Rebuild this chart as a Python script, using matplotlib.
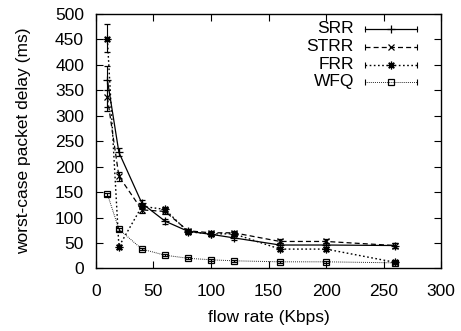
import matplotlib
matplotlib.use("Agg")
import matplotlib.pyplot as plt
from matplotlib.lines import Line2D

plt.rcParams['font.family'] = ['Liberation Sans', 'DejaVu Sans']

rates = [10, 20, 40, 60, 80, 100, 120, 160, 200, 260]
srr = [370, 228, 128, 93, 73, 67, 60, 46, 46, 45]
srr_lo = [310, 220, 122, 88, 69, 63, 56, 42, 42, 41]
srr_hi = [398, 236, 134, 98, 77, 71, 64, 50, 50, 49]
strr = [336, 181, 115, 112, 74, 70, 70, 53, 53, 45]
strr_lo = [318, 172, 109, 106, 70, 66, 66, 49, 49, 41]
strr_hi = [350, 190, 121, 118, 78, 74, 74, 57, 57, 49]
frr = [450, 43, 122, 116, 72, 68, 68, 38, 38, 12]
frr_lo = [425, 39, 117, 111, 68, 64, 64, 34, 34, 9]
frr_hi = [480, 47, 127, 121, 76, 72, 72, 42, 42, 15]
wfq = [146, 77, 38, 26, 20, 17, 15, 13, 13, 11]
wfq_lo = [143, 74, 36, 24, 18, 15, 13, 11, 11, 9]
wfq_hi = [149, 80, 40, 28, 22, 19, 17, 15, 15, 13]

names = ["SRR", "STRR", "FRR", "WFQ"]
series = [(srr, srr_lo, srr_hi), (strr, strr_lo, strr_hi),
          (frr, frr_lo, frr_hi), (wfq, wfq_lo, wfq_hi)]
styles = [
    dict(ls='-', marker='+', ms=6, lw=0.9),
    dict(ls=(0, (4, 2.5)), marker='x', ms=4.5, lw=0.9),
    dict(ls=(0, (1.2, 1.8)), marker=(8, 2, 0), ms=5.5, lw=1.0),
    dict(ls=(0, (0.8, 1.2)), marker='s', ms=4.5, lw=0.7, mfc='none'),
]

fig = plt.figure(figsize=(4.61, 3.31), dpi=100)
ax = fig.add_axes([0.208, 0.189, 0.749, 0.769])

for (vals, lo, hi), st in zip(series, styles):
    yerr = [[v - l for v, l in zip(vals, lo)], [h - v for v, h in zip(vals, hi)]]
    ax.errorbar(rates, vals, yerr=yerr, color='black', ecolor='black',
                elinewidth=0.8, capsize=2.5, capthick=0.8,
                linestyle=st['ls'], lw=st['lw'], marker=st['marker'],
                ms=st['ms'], mfc=st.get('mfc', 'black'), mec='black', mew=0.9)

ax.set_xlim(0, 300)
ax.set_ylim(0, 500)
ax.set_xticks(range(0, 301, 50))
ax.set_yticks(range(0, 501, 50))
ax.tick_params(direction='in', length=5, width=0.8, top=True, right=True,
               labelsize=12.5)
ax.tick_params(axis='x', pad=11)
ax.tick_params(axis='y', pad=8.5)
for s in ax.spines.values():
    s.set_linewidth(1.0)
ax.set_xlabel("flow rate (Kbps)", fontsize=12.5, labelpad=8)
ax.set_ylabel("worst-case packet delay (ms)", fontsize=12.5, labelpad=17)

# gnuplot-style legend: right-aligned text, then sample
ys = [0.941, 0.870, 0.800, 0.733]
x_text = 0.747
x1, x2 = 0.78, 0.93
for name, st, yy in zip(names, styles, ys):
    ax.text(x_text, yy, name, transform=ax.transAxes, ha='right', va='center',
            fontsize=12.5)
    ax.add_line(Line2D([x1, x2], [yy, yy], transform=ax.transAxes, color='black',
                       linestyle=st['ls'], lw=st['lw']))
    ax.add_line(Line2D([x1, x2], [yy, yy], transform=ax.transAxes, color='black',
                       linestyle='none', marker='|', ms=4, mew=0.8))
    ax.add_line(Line2D([(x1 + x2) / 2], [yy], transform=ax.transAxes, color='black',
                       linestyle='none', marker=st['marker'], ms=st['ms'],
                       mfc=st.get('mfc', 'black'), mec='black', mew=0.9))

fig.savefig("out.png", dpi=100)
